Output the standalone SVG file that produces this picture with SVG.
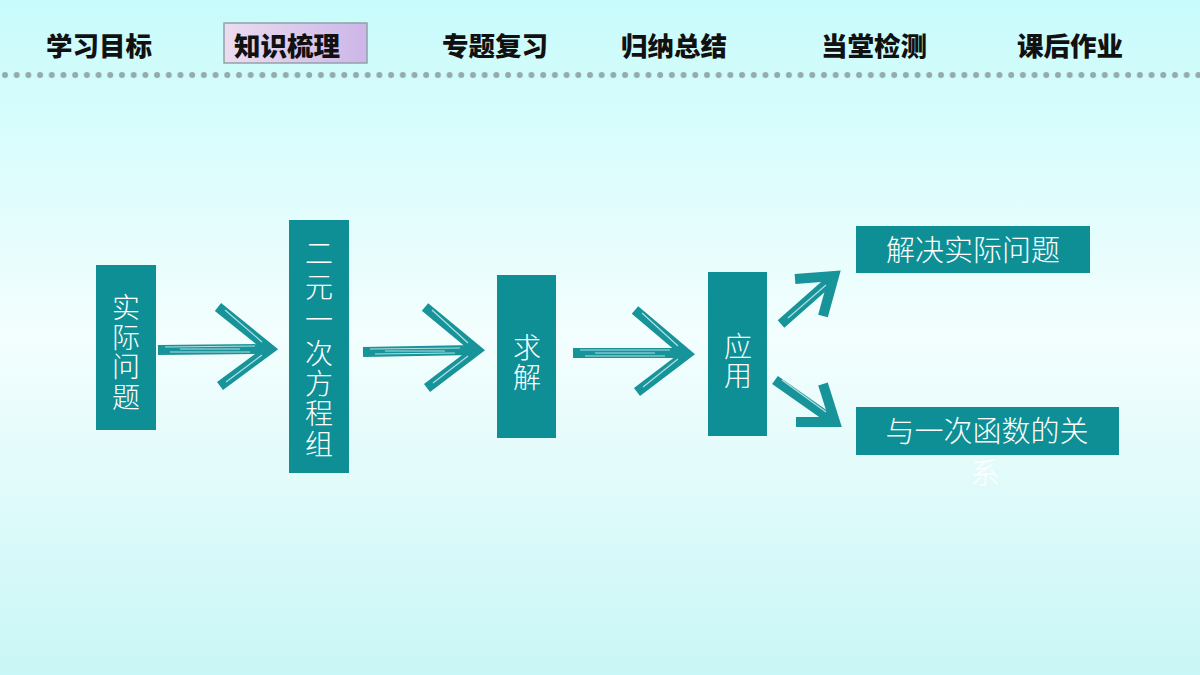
<svg xmlns="http://www.w3.org/2000/svg" width="1200" height="675" viewBox="0 0 1200 675">
<defs>
<linearGradient id="bg" x1="0" y1="0" x2="0" y2="1">
<stop offset="0" stop-color="#c8fbfb"/>
<stop offset="0.5" stop-color="#f3fefe"/>
<stop offset="1" stop-color="#c9f6f6"/>
</linearGradient>
<linearGradient id="sel" x1="0" y1="0" x2="1" y2="0">
<stop offset="0" stop-color="#ecdcf0"/>
<stop offset="1" stop-color="#cdb6e8"/>
</linearGradient>
<pattern id="dots" x="0" y="0" width="11.7" height="10" patternUnits="userSpaceOnUse">
<circle cx="5" cy="5" r="3" fill="#93abab"/>
</pattern>
</defs>
<style>
.nav{font-family:"Noto Sans CJK SC","Noto Sans",sans-serif;font-weight:900;font-size:26.5px;fill:#111}
.box{fill:#0e8f96}
.lbl{font-family:"Noto Sans CJK SC","Noto Sans",sans-serif;font-weight:300;font-size:28px;fill:#fff;text-anchor:middle}
.arr{fill:none;stroke:#17939a;stroke-width:10;stroke-linecap:butt;stroke-linejoin:miter}
.streak{fill:none;stroke:#e6fafa;stroke-width:1.2;opacity:0.75}
</style>
<rect width="1200" height="675" fill="url(#bg)"/>
<g id="nav">
<rect x="224" y="23" width="143" height="40" fill="url(#sel)" stroke="#8fa3a8" stroke-width="1.5"/>
<text class="nav" x="46" y="56">学习目标</text>
<text class="nav" x="234" y="56">知识梳理</text>
<text class="nav" x="442" y="56">专题复习</text>
<text class="nav" x="621" y="56">归纳总结</text>
<text class="nav" x="821" y="56">当堂检测</text>
<text class="nav" x="1017" y="56">课后作业</text>
<rect x="0" y="68" width="1200" height="10" fill="url(#dots)"/>
</g>
<g id="connectors">
<g id="a1">
<path class="arr" d="M158 350 L268 349"/>
<path class="arr" d="M218 307 L270 349 L220 386"/>
<path class="streak" d="M165 347 L255 346 M170 352 L250 352 M225 310 L262 342 M226 382 L262 355 M180 349 L240 349"/>
</g>
<g id="a2">
<path class="arr" d="M363 352 L474 350"/>
<path class="arr" d="M425 307 L477 350 L427 388"/>
<path class="streak" d="M370 349 L460 348 M375 354 L455 353 M432 310 L468 343 M433 383 L468 356 M385 351 L445 351"/>
</g>
<g id="a3">
<path class="arr" d="M573 353 L684 353"/>
<path class="arr" d="M635 310 L687 354 L637 392"/>
<path class="streak" d="M580 350 L670 350 M585 356 L665 356 M642 313 L678 346 M643 387 L678 359 M595 353 L655 353"/>
</g>
<g id="a4">
<path class="arr" d="M781 324 L832 279"/>
<path class="arr" d="M795 279 L834 276 L823 316"/>
<path class="streak" d="M788 318 L826 285"/>
</g>
<g id="a5">
<path class="arr" d="M775 380 L832 420"/>
<path class="arr" d="M796 422 L835 422 L823 384"/>
<path class="streak" d="M782 380 L826 412"/>
</g>
</g>
<g id="n1">
<rect class="box" x="96" y="265" width="60" height="165"/>
<text class="lbl" x="126" y="318">实</text>
<text class="lbl" x="126" y="348">际</text>
<text class="lbl" x="126" y="377">问</text>
<text class="lbl" x="126" y="408">题</text>
</g>
<g id="n2">
<rect class="box" x="289" y="220" width="60" height="253"/>
<text class="lbl" x="319" y="264">二</text>
<text class="lbl" x="319" y="298">元</text>
<text class="lbl" x="319" y="330">一</text>
<text class="lbl" x="319" y="364">次</text>
<text class="lbl" x="319" y="394">方</text>
<text class="lbl" x="319" y="424">程</text>
<text class="lbl" x="319" y="455">组</text>
</g>
<g id="n3">
<rect class="box" x="497" y="275" width="59" height="163"/>
<text class="lbl" x="527" y="358">求</text>
<text class="lbl" x="527" y="388">解</text>
</g>
<g id="n4">
<rect class="box" x="708" y="272" width="59" height="164"/>
<text class="lbl" x="738" y="357">应</text>
<text class="lbl" x="738" y="386">用</text>
</g>
<g id="n5">
<rect class="box" x="856" y="226" width="234" height="47"/>
<text class="lbl" x="973" y="261" style="font-size:29px">解决实际问题</text>
</g>
<g id="n6">
<rect class="box" x="856" y="407" width="263" height="48"/>
<text class="lbl" x="987" y="442" style="font-size:29px">与一次函数的关</text>
<text class="lbl" x="985" y="484" style="font-size:29px">系</text>
</g>
</svg>
